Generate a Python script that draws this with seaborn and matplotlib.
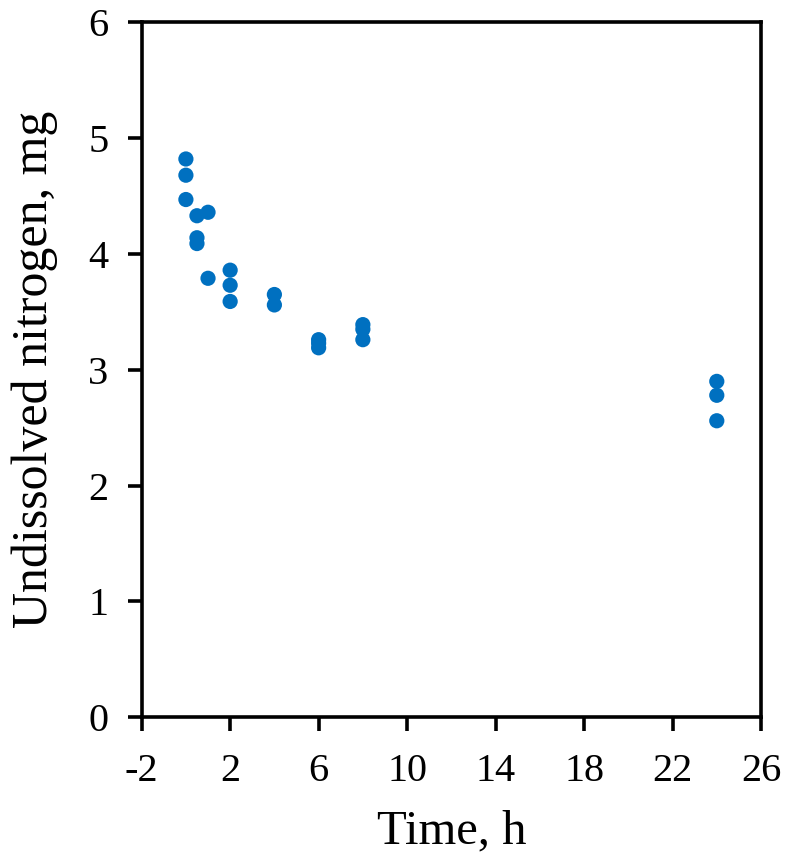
import pandas as pd
import numpy as np
import seaborn as sns
import matplotlib.pyplot as plt

time_h = [0, 0, 0,
          0.5, 0.5, 0.5,
          1, 1,
          2, 2, 2,
          4, 4,
          6, 6, 6,
          8, 8, 8,
          24, 24, 24]
nitrogen_mg = [4.82, 4.68, 4.47,
               4.33, 4.14, 4.09,
               4.36, 3.79,
               3.86, 3.73, 3.59,
               3.65, 3.56,
               3.26, 3.23, 3.19,
               3.39, 3.35, 3.26,
               2.90, 2.78, 2.56]

x_ticks = [-2, 2, 6, 10, 14, 18, 22, 26]
y_ticks = [0, 1, 2, 3, 4, 5, 6]

df = pd.DataFrame({"Time": time_h, "N": nitrogen_mg})

sns.set_style("white")
plt.rcParams['font.family'] = ['Liberation Serif', 'DejaVu Serif']
plt.rcParams['text.color'] = "black"
plt.rcParams['axes.labelcolor'] = "black"

fig = plt.figure(figsize=(7.87, 8.58), dpi=100)
ax = fig.add_axes([0.180, 0.164, 0.787, 0.810])

sns.scatterplot(data=df, x="Time", y="N", ax=ax, color="#0070C0",
                s=120, edgecolor="none", linewidth=0, zorder=3)

ax.set_xlim(-2, 26)
ax.set_ylim(0, 6)
ax.set_xticks(x_ticks)
ax.set_yticks(y_ticks)
ax.set_xticklabels([str(t) for t in x_ticks])
ax.set_yticklabels([str(t) for t in y_ticks])

for sp in ax.spines.values():
    sp.set_visible(True)
    sp.set_color("black")
    sp.set_linewidth(2.6)

ax.tick_params(axis="both", direction="out", length=10, width=2.6,
               labelsize=29, colors="black", bottom=True, left=True, pad=14)
ax.tick_params(axis="x", pad=16)

ax.set_xlabel("Time, h", fontsize=35, labelpad=14, color="black")
ax.set_ylabel("Undissolved nitrogen, mg", fontsize=36, labelpad=22, color="black")

fig.savefig("out.png", dpi=100)
